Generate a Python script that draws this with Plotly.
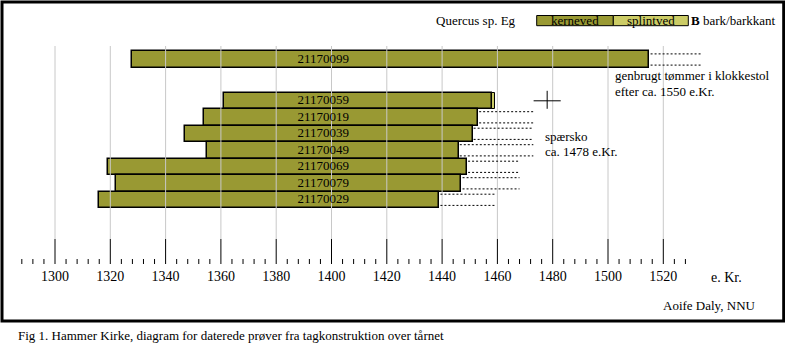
import plotly.graph_objects as go

# ---------------- data ----------------
sample_ids = ["21170099", "21170059", "21170019", "21170039",
              "21170049", "21170069", "21170079", "21170029"]
heart_start = [1328, 1361, 1354, 1347, 1355, 1319, 1322, 1316]
heart_end = [1515, 1458, 1453, 1451, 1446, 1449, 1447, 1439]
sap_end = [None, 1459, None, None, None, None, None, None]
est_end = [1534, None, 1473, 1473, 1473, 1468, 1468, 1459]
felling_year = 1478
reuse_year = 1550
major_ticks = list(range(1300, 1521, 20))
minor_ticks = [y for y in range(1288, 1529, 4) if y % 20]

# ---------------- layout helpers ----------------
W, H = 785, 344
PX_PER_YEAR = 2.765
X0_PX = 55.0  # pixel of year 1300
x_lo = 1300 - X0_PX / PX_PER_YEAR
x_hi = x_lo + W / PX_PER_YEAR

ROW_Y = [59.5] + [100.8 + 16.5 * k for k in range(len(sample_ids) - 1)]
BAR_H = 16.4
DASH_OFF = 5.6

OLIVE = "#999933"
LIGHT = "#CCCC66"
GRID = "#C8C8C8"
FONT = "Liberation Serif"


def pxp(px):
    return px / W


fig = go.Figure()

# grid lines
gx, gy = [], []
for t in major_ticks:
    gx += [t, t, None]
    gy += [46, 239, None]
fig.add_trace(go.Scatter(x=gx, y=gy, mode="lines", line=dict(color=GRID, width=1),
                         hoverinfo="skip", showlegend=False))

# heartwood bars
fig.add_trace(go.Bar(
    orientation="h", y=ROW_Y, base=heart_start,
    x=[e - s for s, e in zip(heart_start, heart_end)],
    width=BAR_H, marker=dict(color=OLIVE, line=dict(color="black", width=1.5)),
    showlegend=False, hoverinfo="skip"))

# sapwood bars
sy, sb, sx = [], [], []
for y, he, se in zip(ROW_Y, heart_end, sap_end):
    if se is not None:
        sy.append(y)
        sb.append(he)
        sx.append(se - he)
fig.add_trace(go.Bar(
    orientation="h", y=sy, base=sb, x=sx, width=BAR_H,
    marker=dict(color=LIGHT, line=dict(color="black", width=1)),
    showlegend=False, hoverinfo="skip"))

# dashed estimate lines
dx, dy = [], []
for y, he, ee in zip(ROW_Y, heart_end, est_end):
    if ee is not None:
        for off in (-DASH_OFF, DASH_OFF):
            dx += [he + 0.4, ee, None]
            dy += [y + off, y + off, None]
fig.add_trace(go.Scatter(x=dx, y=dy, mode="lines",
                         line=dict(color="black", width=1, dash="2px,2px"),
                         hoverinfo="skip", showlegend=False))

# bar labels
fig.add_trace(go.Scatter(x=[1397] * len(sample_ids), y=ROW_Y, mode="text",
                         text=sample_ids,
                         textfont=dict(family=FONT, size=13, color="black"),
                         hoverinfo="skip", showlegend=False))

# felling cross
cy = ROW_Y[1]
fig.add_trace(go.Scatter(
    x=[felling_year - 4.9, felling_year + 4.9, None, felling_year, felling_year],
    y=[cy, cy, None, cy - 10, cy + 8],
    mode="lines", line=dict(color="black", width=1),
    hoverinfo="skip", showlegend=False))

# axis ticks
tx, ty = [], []
for t in major_ticks:
    tx += [t, t, None]
    ty += [239, 264, None]
for t in minor_ticks:
    tx += [t, t, None]
    ty += [259, 264, None]
fig.add_trace(go.Scatter(x=tx, y=ty, mode="lines", line=dict(color="black", width=1),
                         hoverinfo="skip", showlegend=False))

# tick labels
fig.add_trace(go.Scatter(x=major_ticks, y=[277] * len(major_ticks), mode="text",
                         text=[str(t) for t in major_ticks],
                         textfont=dict(family=FONT, size=14, color="black"),
                         hoverinfo="skip", showlegend=False))

ann = []


def txt(x, y, s, xref="paper", xanchor="left", size=13):
    ann.append(dict(x=x, y=y, xref=xref, yref="y", text=s, showarrow=False,
                    xanchor=xanchor, yanchor="middle",
                    font=dict(family=FONT, size=size, color="black")))


txt(1501.7, 75.7, "genbrugt tømmer i klokkestol", xref="x")
txt(1501.7, 91.7, f"efter ca. {reuse_year} e.Kr.", xref="x")
txt(1476.4, 136.7, "spærsko", xref="x")
txt(1476.4, 151.7, f"ca. {felling_year} e.Kr.", xref="x")
txt(pxp(726), 277, "e. Kr.", xanchor="center", size=14)
txt(pxp(661), 305, "Aoife Daly, NNU")
txt(pxp(16), 335, "Fig 1. Hammer Kirke, diagram for daterede prøver fra tagkonstruktion over tårnet")
txt(pxp(434), 20, "Quercus sp. Eg")
txt(pxp(575), 20.5, "kerneved", xanchor="center")
txt(pxp(651), 20.5, "splintved", xanchor="center")
txt(pxp(688.5), 20, "<b>B</b> bark/barkkant")

shapes = [
    dict(type="rect", xref="paper", yref="y", x0=pxp(536.7), x1=pxp(613.3), y0=15.5, y1=25.7,
         fillcolor=OLIVE, line=dict(color="black", width=1), layer="below"),
    dict(type="rect", xref="paper", yref="y", x0=pxp(613.3), x1=pxp(688.3), y0=15.5, y1=25.7,
         fillcolor=LIGHT, line=dict(color="black", width=1), layer="below"),
    dict(type="rect", xref="paper", yref="y", x0=pxp(2), x1=pxp(783.7), y0=2, y1=321,
         line=dict(color="black", width=3)),
]

fig.update_layout(
    width=W, height=H, margin=dict(l=0, r=0, t=0, b=0),
    paper_bgcolor="white", plot_bgcolor="white",
    barmode="overlay", bargap=0,
    xaxis=dict(range=[x_lo, x_hi], visible=False, fixedrange=True),
    yaxis=dict(range=[H, 0], visible=False, fixedrange=True),
    annotations=ann, shapes=shapes, showlegend=False,
)

fig.write_html("out.html")
